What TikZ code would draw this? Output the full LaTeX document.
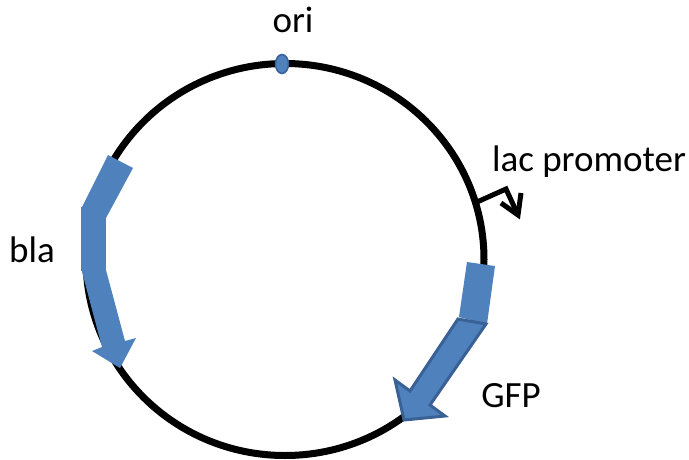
\documentclass[tikz,border=0pt]{standalone}
\usepackage{fontspec}
\setmainfont{Carlito}
\usetikzlibrary{shapes.geometric}
\definecolor{fillblue}{HTML}{4F81BD}
\definecolor{edgeblue}{HTML}{3A6196}
\tikzset{
  lbl/.style={font=\fontsize{37}{44}\selectfont, inner sep=0pt, anchor=center},
  blockedge/.style={fill=fillblue, draw=edgeblue, line width=3pt, line join=miter},
  promline/.style={line width=5pt, line join=miter},
}
\begin{document}
\begin{tikzpicture}[x=1pt,y=-1pt]
\useasboundingbox (0,0) rectangle (689,459);
% plasmid backbone
\draw[line width=7pt] (285,259.5) ellipse [x radius=199pt, y radius=196pt];
% ori
\node[draw=edgeblue, fill=fillblue, ellipse, line width=1.5pt, minimum width=13pt, minimum height=19pt, inner sep=0pt] (ori) at (282,64) {};
\node[lbl] (orilbl) at (293,20) {ori};
% bla
\fill[fillblue] (108,155) -- (133,168) -- (106,218) -- (81,209) -- cycle;
\fill[fillblue] (81,207) rectangle (106,271);
\fill[fillblue] (81,268) -- (106,270) -- (125,341) -- (136,338) -- (120,368) -- (92,351) -- (102,347) -- cycle;
\node[lbl] (blalbl) at (32,250) {bla};
% lac promoter
\coordinate (lacstart) at (477,202);
\coordinate (lacbend) at (506,189);
\coordinate (lacend) at (518,215);
\coordinate (barbl) at (501,203);
\coordinate (barbr) at (521,193);
\draw[promline] (lacstart) -- (lacbend) -- (lacend);
\draw[promline, line join=miter, miter limit=4] (barbl) -- (lacend) -- (barbr);
\node[lbl] (laclbl) at (589,162) {lac promoter};
% GFP
\fill[fillblue] (467,262) -- (495,266) -- (487,324) -- (459,317) -- cycle;
\draw[blockedge] (458,319) -- (486,324) -- (430,405) -- (445,416) -- (404,420) -- (395,380) -- (410,391) -- cycle;
\node[lbl] (gfplbl) at (511,396) {GFP};
\end{tikzpicture}
\end{document}
